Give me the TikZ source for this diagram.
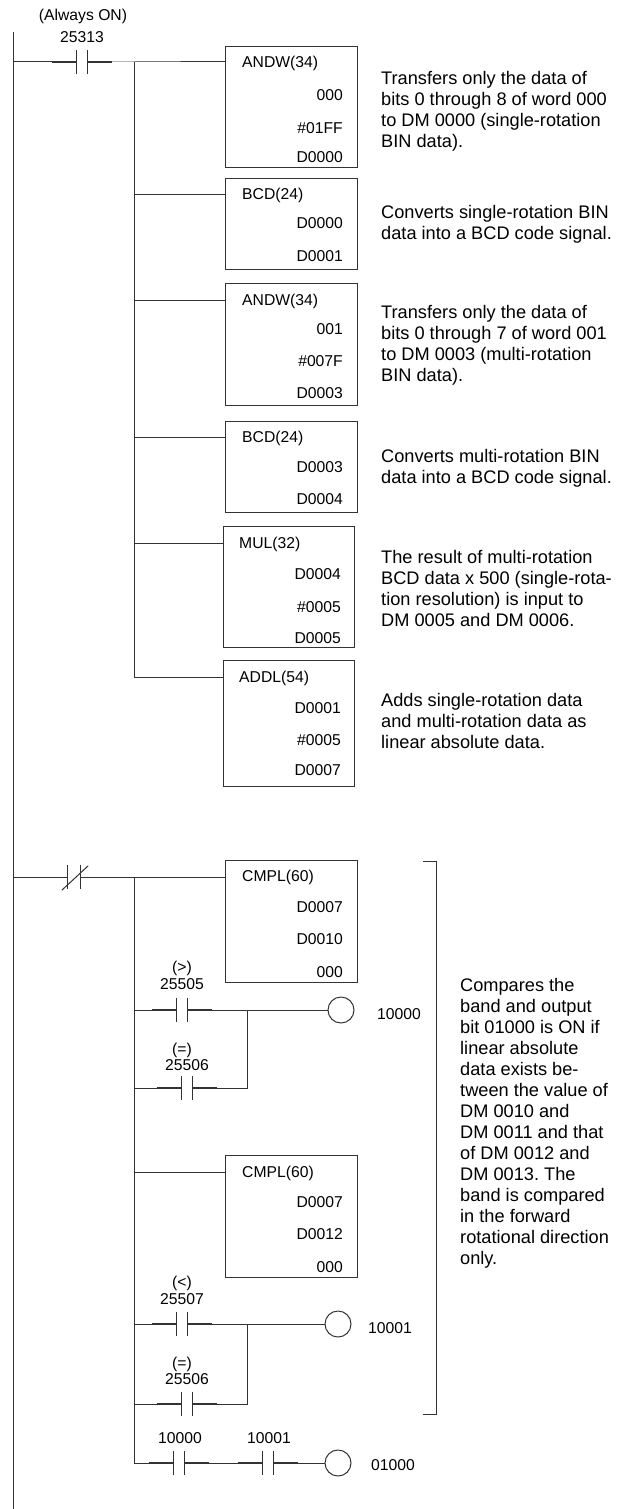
\documentclass[tikz,border=0pt]{standalone}
\usepackage{fontspec}
\setmainfont{Liberation Sans}
\usetikzlibrary{positioning}
\frenchspacing

\tikzset{
	wire/.style={draw=black!80, line width=1pt},
	stub/.style={draw=black!80, line width=1.5pt},
	fbox/.style={draw=black!80, line width=1pt, rectangle, minimum width=132pt, inner sep=0pt, anchor=north west},
	op/.style={inner sep=0pt, text height=11.2pt, text depth=0pt, font=\fontsize{15.7}{18}\selectfont},
	note/.style={inner sep=0pt, anchor=north west, align=left, font=\fontsize{18.2}{21}\selectfont},
	contact/.style={rectangle, minimum width=10pt, minimum height=24pt, inner sep=0pt,
		append after command={(\tikzlastnode.north west) edge[wire] (\tikzlastnode.south west)
			(\tikzlastnode.north east) edge[wire] (\tikzlastnode.south east)}},
	nocont/.style={contact,
		append after command={([xshift=-25pt]\tikzlastnode.west) edge[stub] (\tikzlastnode.west)
			(\tikzlastnode.east) edge[stub] ([xshift=25pt]\tikzlastnode.east)}},
	nccont/.style={contact, minimum width=12pt,
		append after command={([xshift=-6pt,yshift=-1pt]\tikzlastnode.south west) edge[wire] ([xshift=8pt,yshift=-1pt]\tikzlastnode.north east)}},
	coil/.style={circle, draw=black!80, line width=1pt, minimum size=26pt, inner sep=0pt},
}

\begin{document}
\begin{tikzpicture}[x=1pt, y=-1pt]
	\useasboundingbox (0,0) rectangle (625,1509);

	% power rail
	\coordinate (railtop) at (13,32);
	\coordinate (railbot) at (13,1509);
	\draw[wire] (railtop) -- (railbot);

	% first rung: always on
	\node[op] (tAlways) at (83,15) {(Always ON)};
	\node[op] (t25313) at (82,37) {25313};
	\node[nocont] (k25313) at (82,62) {};
	\coordinate (b1) at (134,62);
	\coordinate (b2) at (134,194);
	\coordinate (b3) at (134,300);
	\coordinate (b4) at (134,437);
	\coordinate (b5) at (134,543);
	\coordinate (b6) at (134,677);

	\node[fbox, minimum height=121pt] (andw1) at (225,46) {};
	\node[op, anchor=west] (andw1t) at (242,62) {ANDW(34)};
	\foreach \y/\t in {95/000,128/\#01FF,157/D0000}
		\node[op, anchor=east] (andw1-\y) at (343,\y) {\t};

	\node[fbox, minimum height=91pt] (bcd1) at (225,178) {};
	\node[op, anchor=west] (bcd1t) at (242,194) {BCD(24)};
	\foreach \y/\t in {223/D0000,256/D0001}
		\node[op, anchor=east] (bcd1-\y) at (343,\y) {\t};

	\node[fbox, minimum height=122pt] (andw2) at (225,283) {};
	\node[op, anchor=west] (andw2t) at (242,300) {ANDW(34)};
	\foreach \y/\t in {329/001,361/\#007F,393/D0003}
		\node[op, anchor=east] (andw2-\y) at (343,\y) {\t};

	\node[fbox, minimum height=91pt] (bcd2) at (225,421) {};
	\node[op, anchor=west] (bcd2t) at (242,437) {BCD(24)};
	\foreach \y/\t in {467/D0003,499/D0004}
		\node[op, anchor=east] (bcd2-\y) at (343,\y) {\t};

	\node[fbox, minimum width=131pt, minimum height=121pt] (mul) at (223,526) {};
	\node[op, anchor=west] (mult) at (239,543) {MUL(32)};
	\foreach \y/\t in {574/D0004,607/\#0005,638/D0005}
		\node[op, anchor=east] (mul-\y) at (341,\y) {\t};

	\node[fbox, minimum width=131pt, minimum height=126pt] (addl) at (223,660) {};
	\node[op, anchor=west] (addlt) at (239,677) {ADDL(54)};
	\foreach \y/\t in {708/D0001,740/\#0005,770/D0007}
		\node[op, anchor=east] (addl-\y) at (341,\y) {\t};

	\draw[wire] (13,62) -- (k25313) -- (b1) -- (b1 -| andw1.west);
	\draw[wire] (b1) -- (b6) -- (b6 -| addl.west);
	\draw[wire] (b2) -- (b2 -| bcd1.west);
	\draw[wire] (b3) -- (b3 -| andw2.west);
	\draw[wire] (b4) -- (b4 -| bcd2.west);
	\draw[wire] (b5) -- (b5 -| mul.west);

	\node[note] (n1) at (381,71.5) {Transfers only the data of\\bits 0 through 8 of word 000\\to DM 0000 (single-rotation\\BIN data).};
	\node[note] (n2) at (381,205.5) {Converts single-rotation BIN\\data into a BCD code signal.};
	\node[note] (n3) at (381,305.5) {Transfers only the data of\\bits 0 through 7 of word 001\\to DM 0003 (multi-rotation\\BIN data).};
	\node[note] (n4) at (381,449.5) {Converts multi-rotation BIN\\data into a BCD code signal.};
	\node[note] (n5) at (381,550.5) {The result of multi-rotation\\BCD data x 500 (single-rota-\\tion resolution) is input to\\DM 0005 and DM 0006.};
	\node[note] (n6) at (381,693.5) {Adds single-rotation data\\and multi-rotation data as\\linear absolute data.};

	% second rung: band comparison
	\node[nccont] (kNC) at (74,877) {};
	\coordinate (b7) at (134,877);
	\coordinate (b8) at (134,1010);
	\coordinate (b9) at (134,1088);
	\coordinate (b10) at (134,1172);
	\coordinate (b11) at (134,1324);
	\coordinate (b12) at (134,1404);
	\coordinate (b13) at (134,1463);

	\node[fbox, minimum height=122pt] (cmpl1) at (225,860) {};
	\node[op, anchor=west] (cmpl1t) at (242,876) {CMPL(60)};
	\foreach \y/\t in {907/D0007,939/D0010,972/000}
		\node[op, anchor=east] (cmpl1-\y) at (343,\y) {\t};

	\node[fbox, minimum height=122pt] (cmpl2) at (225,1155) {};
	\node[op, anchor=west] (cmpl2t) at (242,1172) {CMPL(60)};
	\foreach \y/\t in {1202/D0007,1234/D0012,1267/000}
		\node[op, anchor=east] (cmpl2-\y) at (343,\y) {\t};

	\draw[wire] (13,877) -- (kNC) -- (b7) -- (b7 -| cmpl1.west);
	\draw[wire] (b7) -- (b13);
	\draw[wire] (b10) -- (b10 -| cmpl2.west);

	% greater than
	\node[op] (tgt) at (182,967) {(>)};
	\node[op] (t25505) at (182,984) {25505};
	\node[nocont] (k25505) at (182,1010) {};
	\node[coil] (y10000) at (341,1010) {};
	\node[op, anchor=west] (t10000) at (377,1014) {10000};
	\node[op] (teqa) at (182,1049) {(=)};
	\node[op] (t25506a) at (187,1065) {25506};
	\node[nocont] (k25506a) at (187,1088) {};
	\coordinate (j1) at (247,1010);
	\coordinate (j1b) at (247,1088);
	\draw[wire] (b8) -- (k25505) -- (y10000);
	\draw[wire] (b9) -- (k25506a) -- (j1b) -- (j1);

	% less than
	\node[op] (tlt) at (182,1282) {(<)};
	\node[op] (t25507) at (182,1299) {25507};
	\node[nocont] (k25507) at (182,1324) {};
	\node[coil] (y10001) at (338,1324) {};
	\node[op, anchor=west] (t10001) at (368,1328) {10001};
	\node[op] (teqb) at (182,1363) {(=)};
	\node[op] (t25506b) at (187,1379) {25506};
	\node[nocont] (k25506b) at (187,1404) {};
	\coordinate (j2) at (247,1324);
	\coordinate (j2b) at (247,1404);
	\draw[wire] (b11) -- (k25507) -- (y10001);
	\draw[wire] (b12) -- (k25506b) -- (j2b) -- (j2);

	% band output
	\node[op] (tk10000) at (180,1438) {10000};
	\node[op] (tk10001) at (269,1438) {10001};
	\node[nocont] (k10000) at (179,1463) {};
	\node[nocont] (k10001) at (268,1463) {};
	\node[coil] (y01000) at (338,1463) {};
	\node[op, anchor=west] (t01000) at (371,1465) {01000};
	\draw[wire] (b13) -- (k10000) -- (k10001) -- (y01000);

	% bracket and note
	\coordinate (brtop) at (423,861);
	\coordinate (brbot) at (423,1414);
	\draw[wire] (brtop) -- (436,861) -- (436,1414) -- (brbot);
	\node[note] (n7) at (460,978.5) {Compares the\\band and output\\bit 01000 is ON if\\linear absolute\\data exists be-\\tween the value of\\DM 0010 and\\DM 0011 and that\\of DM 0012 and\\DM 0013. The\\band is compared\\in the forward\\rotational direction\\only.};
\end{tikzpicture}
\end{document}
